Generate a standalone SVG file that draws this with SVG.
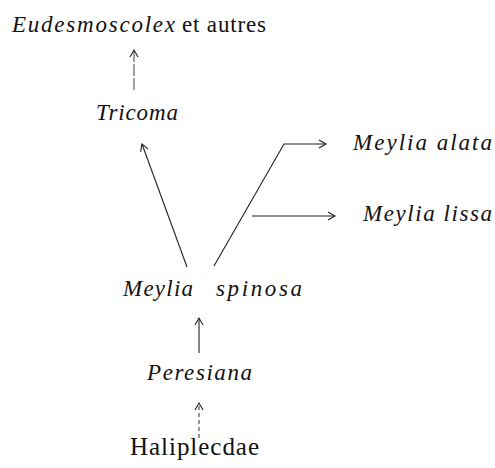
<svg xmlns="http://www.w3.org/2000/svg" width="495" height="468" viewBox="0 0 495 468">
<style>
text { font-family: "Liberation Serif", "Times New Roman", serif; font-size: 23px; fill: #111; }
.i { font-style: italic; }
.r { font-style: normal; }
.ln { stroke: #222; stroke-width: 1.1; fill: none; }
.faint { stroke: #555; stroke-dasharray: 12 2; }
.dash { stroke: #444; stroke-dasharray: 4 3; }
</style>
<defs>
<marker id="ah" markerUnits="userSpaceOnUse" markerWidth="12" markerHeight="12" refX="7" refY="4" orient="auto" overflow="visible">
<path d="M0,0 L7,4 L0,8" fill="none" stroke="#222" stroke-width="1.1"/>
</marker>
</defs>
<rect width="495" height="468" fill="#fff"/>
<g id="eudesmoscolex">
<text class="i" x="12" y="32" textLength="163" lengthAdjust="spacing">Eudesmoscolex</text>
<text class="r" x="182" y="32" textLength="84" lengthAdjust="spacing">et autres</text>
</g>
<g id="tricoma"><text class="i" x="96" y="120" textLength="82" lengthAdjust="spacing">Tricoma</text></g>
<g id="meylia-alata"><text class="i" x="353" y="150" textLength="139" lengthAdjust="spacing">Meylia alata</text></g>
<g id="meylia-lissa"><text class="i" x="363" y="221" textLength="129" lengthAdjust="spacing">Meylia lissa</text></g>
<g id="meylia-spinosa">
<text class="i" x="123" y="296" textLength="70" lengthAdjust="spacing">Meylia</text>
<text class="i" x="216" y="296" textLength="86" lengthAdjust="spacing">spinosa</text>
</g>
<g id="peresiana"><text class="i" x="147" y="380" textLength="105" lengthAdjust="spacing">Peresiana</text></g>
<g id="haliplecdae"><text class="r" x="130" y="455" style="font-size:25px" textLength="129" lengthAdjust="spacing">Haliplecdae</text></g>
<g id="connectors">
<line class="ln faint" x1="134" y1="90" x2="134" y2="50" marker-end="url(#ah)"/>
<line class="ln" x1="187" y1="267" x2="142" y2="144" marker-end="url(#ah)"/>
<polyline class="ln" points="214,266 284,144 326,144" marker-end="url(#ah)"/>
<line class="ln" x1="252" y1="216" x2="335" y2="216" marker-end="url(#ah)"/>
<line class="ln" x1="199" y1="353" x2="199" y2="318" marker-end="url(#ah)"/>
<line class="ln dash" x1="199" y1="438" x2="199" y2="403" marker-end="url(#ah)"/>
</g>
</svg>
